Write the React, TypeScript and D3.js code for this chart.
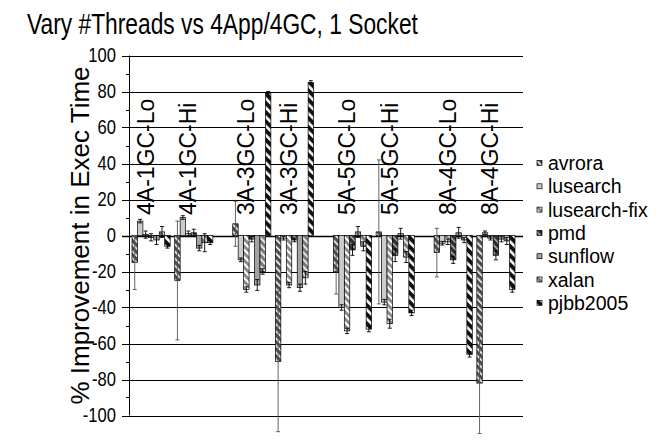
import React from "react";
import * as d3 from "d3";

const configs = ["4A-1GC", "3A-3GC", "5A-5GC", "8A-4GC"];
const levels = ["Lo", "Hi"];
const categories = configs.flatMap((c) => levels.map((l) => `${c}-${l}`));
const seriesNames = ["avrora", "lusearch", "lusearch-fix", "pmd", "sunflow", "xalan", "pjbb2005"];

const avrora = [-15, -25, 6.5, -70, -20, 2, -9.5, -82];
const avroraErr = [15, 33, 12.5, 39, 12.5, 40, 13.5, 28];
const lusearch = [8, 10, -13.5, -1.5, -40, -37, -4.3, 1.5];
const lusearchErr = [1, 1, 1, 1, 1.5, 1.5, 1, 1];
const lusearchFix = [0.5, 1, -30, -27.5, -53, -49, -3.5, -1.5];
const lusearchFixErr = [2, 1.5, 1.5, 1.5, 1.5, 2.5, 1.5, 1];
const pmd = [-1, 1.5, -2, -2.5, -8, -11, -13.5, -11];
const pmdErr = [2, 2, 1.5, 1, 3, 3.5, 2, 2.5];
const sunflow = [-2.5, -7, -27.5, -29, 2, 1, 1.5, -2];
const sunflowErr = [2.5, 1.5, 3, 2, 3, 3, 3, 1.5];
const xalan = [2, -4, -20, -23.5, -6, -12, -2.5, -3];
const xalanErr = [3, 5, 1.5, 3.5, 2.5, 3, 1.5, 2];
const pjbb2005 = [-6, -4, 79, 85, -52, -43, -66, -30];
const pjbb2005Err = [1, 1, 1, 1, 1.5, 1.5, 1.5, 1.5];

const seriesValues = [avrora, lusearch, lusearchFix, pmd, sunflow, xalan, pjbb2005];
const seriesErrors = [avroraErr, lusearchErr, lusearchFixErr, pmdErr, sunflowErr, xalanErr, pjbb2005Err];

const yTicks = [100, 80, 60, 40, 20, 0, -20, -40, -60, -80, -100];
const minorTicks = [90, 70, 50, 30, 10, -10, -30, -50, -70, -90];

const titleText = "Vary #Threads vs 4App/4GC, 1 Socket";
const yLabel = "% Improvement in Exec Time";

const styles: any[] = [
  { bg: "#4d4d4d", stripe: "#ffffff", sw: 1.6, period: 5 },
  { solid: "#cccccc" },
  { bg: "#8c8c8c", stripe: "#ffffff", sw: 2, period: 5 },
  { bg: "#2e2e2e", stripe: "#bbbbbb", sw: 1.4, period: 5 },
  { solid: "#a3a3a3" },
  { bg: "#7a7a7a", stripe: "#f2f2f2", sw: 1.8, period: 5 },
  { bg: "#111111", stripe: "#ffffff", sw: 2.6, period: 6.5 },
];

const W = 663;
const H = 442;
const FONT = "'Liberation Sans', Arial, Helvetica, sans-serif";

export default function App() {
  const y = d3.scaleLinear().domain([-100, 100]).range([415.5, 55.5]);
  const xConfig = d3.scaleBand<string>().domain(configs).range([132, 515]).paddingInner(0.197);
  const xLevel = d3.scaleBand<string>().domain(levels).range([0, xConfig.bandwidth()]).paddingInner(0.106);
  const xSeries = d3.scaleBand<string>().domain(seriesNames).range([0, xLevel.bandwidth()]);
  const bw = xSeries.bandwidth();

  const catX = (i: number) =>
    (xConfig(configs[Math.floor(i / 2)]) as number) + (xLevel(levels[i % 2]) as number);

  const fillFor = (si: number) => {
    const s = styles[si];
    return s.solid ? s.solid : `url(#pat${si})`;
  };

  const axisX = 129.5;
  const plotRight = 523;

  return (
    <div style={{ position: "fixed", left: 0, top: 0 }}>
      <svg width={W} height={H} style={{ display: "block", background: "#fff" }} fontFamily={FONT}>
        <defs>
          {styles.map((s, si) =>
            s.solid ? null : (
              <pattern
                key={si}
                id={`pat${si}`}
                patternUnits="userSpaceOnUse"
                width={s.period}
                height={s.period}
                patternTransform="rotate(-45)"
              >
                <rect width={s.period} height={s.period} fill={s.bg} />
                <rect width={s.sw} height={s.period} fill={s.stripe} />
              </pattern>
            )
          )}
        </defs>

        <text transform="translate(27,34) scale(0.76,1)" fontSize={30} textAnchor="start" fill="#000">
          {titleText}
        </text>

        {yTicks.map((t) => (
          <line
            key={`g${t}`}
            x1={122}
            x2={plotRight}
            y1={Math.round(y(t)) + 0.5}
            y2={Math.round(y(t)) + 0.5}
            stroke="#000"
            strokeWidth={t === 0 ? 1.6 : 1}
          />
        ))}
        {minorTicks.map((t) => (
          <line
            key={`m${t}`}
            x1={126}
            x2={axisX}
            y1={Math.round(y(t)) + 0.5}
            y2={Math.round(y(t)) + 0.5}
            stroke="#000"
            strokeWidth={1}
          />
        ))}
        <line x1={axisX} x2={axisX} y1={y(100)} y2={y(-100)} stroke="#000" strokeWidth={1} />

        {yTicks.map((t) => (
          <text
            key={`t${t}`}
            transform={`translate(116,${y(t)}) scale(0.85,1)`}
            fontSize={19.5}
            textAnchor="end"
            dominantBaseline="central"
            fill="#000"
          >
            {t}
          </text>
        ))}

        <text
          transform={`translate(80,${y(0)}) rotate(-90)`}
          fontSize={26}
          textAnchor="middle"
          dominantBaseline="central"
          fill="#000"
        >
          {yLabel}
        </text>

        {categories.map((c, i) => {
          const cx = catX(i) + (xSeries("lusearch-fix") as number) + bw / 2;
          return (
            <text
              key={c}
              transform={`translate(${cx},215) rotate(-90)`}
              fontSize={23}
              textAnchor="start"
              dominantBaseline="central"
              fill="#000"
            >
              {c}
            </text>
          );
        })}

        {categories.map((c, i) =>
          seriesNames.map((s, si) => {
            const v = seriesValues[si][i];
            const x0 = catX(i) + (xSeries(s) as number);
            const y0 = Math.min(y(v), y(0));
            const h = Math.abs(y(v) - y(0));
            return (
              <rect
                key={`${c}-${s}`}
                x={x0}
                y={y0}
                width={bw}
                height={Math.max(h, 0.5)}
                fill={fillFor(si)}
                stroke="#000"
                strokeWidth={0.7}
              />
            );
          })
        )}

        {categories.map((c, i) =>
          seriesNames.map((s, si) => {
            const v = seriesValues[si][i];
            const e = seriesErrors[si][i];
            const cx = catX(i) + (xSeries(s) as number) + bw / 2;
            const yHi = y(v + e);
            const yLo = y(v - e);
            const col = si === 0 ? "#555" : "#000";
            return (
              <g key={`e-${c}-${s}`} stroke={col} strokeWidth={0.9}>
                <line x1={cx} x2={cx} y1={yHi} y2={yLo} />
                <line x1={cx - 2} x2={cx + 2} y1={yHi} y2={yHi} />
                <line x1={cx - 2} x2={cx + 2} y1={yLo} y2={yLo} />
              </g>
            );
          })
        )}

        {seriesNames.map((s, si) => {
          const ly = 163 + si * 23.3;
          return (
            <g key={`l${s}`}>
              <rect x={537} y={ly - 2.5} width={5} height={5} fill={fillFor(si)} stroke="#000" strokeWidth={0.7} />
              <text x={548} y={ly} fontSize={19.5} dominantBaseline="central" fill="#000">
                {s}
              </text>
            </g>
          );
        })}
      </svg>
    </div>
  );
}
